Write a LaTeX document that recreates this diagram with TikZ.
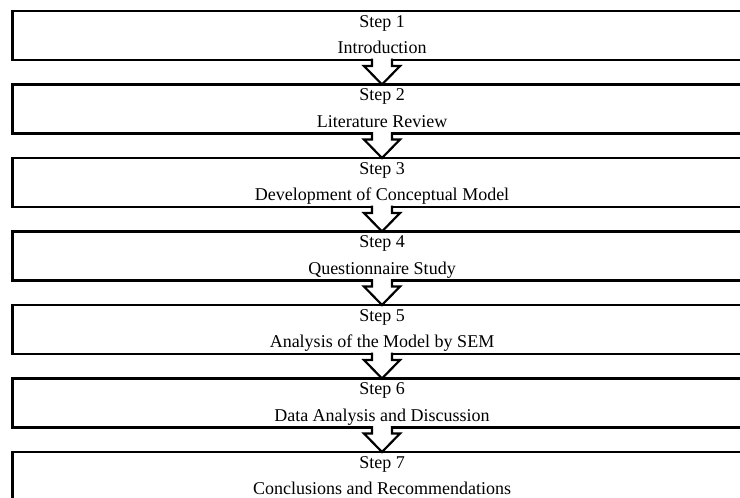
\documentclass[tikz,border=0pt]{standalone}
\usepackage{fontspec}
\setmainfont{Liberation Serif}
\begin{document}
\begin{tikzpicture}[x=1pt,y=-1pt,
  stepbox/.style={draw, rectangle, line width=2.6pt, minimum width=738.6pt, minimum height=49pt, inner sep=0pt, outer sep=0pt},
  txt/.style={anchor=base, font=\fontsize{18}{20}\selectfont, inner sep=0pt},
  flowarrow/.style={draw, fill=white, line width=2.2pt, line join=miter}]
\useasboundingbox (0,0) rectangle (740,498);
\foreach \i/\lab in {1/Introduction, 2/Literature Review, 3/Development of Conceptual Model, 4/Questionnaire Study, 5/Analysis of the Model by SEM, 6/Data Analysis and Discussion, 7/Conclusions and Recommendations}{
  \pgfmathsetmacro{\top}{11+(\i-1)*73.5}
  \node[stepbox] (b\i) at (382,\top+24.5) {};
  \node[txt] (s\i) at ([yshift=-16pt]b\i.north) {Step \i};
  \node[txt] (l\i) at ([yshift=-42.8pt]b\i.north) {\lab};
}
\foreach \i [evaluate=\i as \j using int(\i+1)] in {1,...,6}{
  \draw[flowarrow] ([xshift=-10pt,yshift=1.4pt]b\i.south) -- ([xshift=-10pt,yshift=-6pt]b\i.south) -- ([xshift=-18pt,yshift=-6pt]b\i.south) -- (b\j.north) -- ([xshift=18pt,yshift=-6pt]b\i.south) -- ([xshift=10pt,yshift=-6pt]b\i.south) -- ([xshift=10pt,yshift=1.4pt]b\i.south);
}
\end{tikzpicture}
\end{document}
